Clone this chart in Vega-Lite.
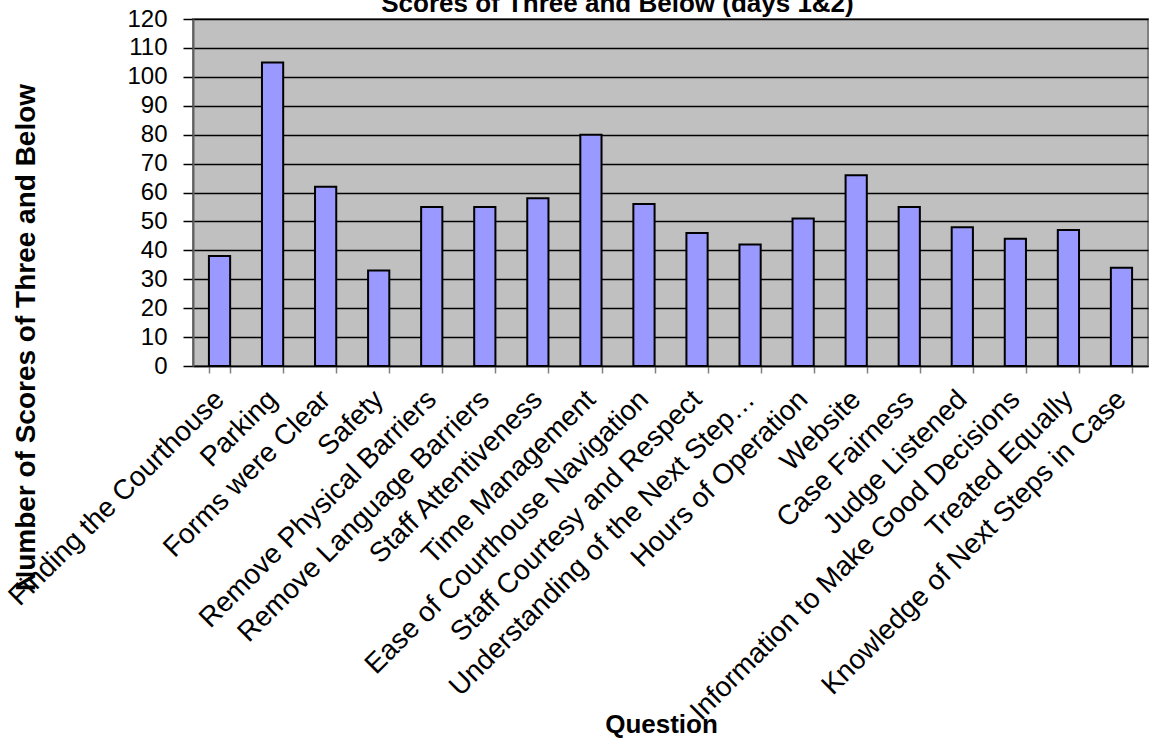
{
  "$schema": "https://vega.github.io/schema/vega-lite/v6.json",
  "width": 955,
  "height": 347,
  "autosize": "none",
  "padding": {"left": 193, "top": 19, "right": 3, "bottom": 378},
  "background": "white",
  "title": {
    "text": "Scores of Three and Below (days 1&2)",
    "font": "Liberation Sans",
    "fontSize": 26,
    "fontWeight": "bold",
    "color": "black",
    "anchor": "middle",
    "offset": -10,
    "dx": -53
  },
  "data": {
    "values": [
      {"question": "Finding the Courthouse", "count": 38},
      {"question": "Parking", "count": 105},
      {"question": "Forms were Clear", "count": 62},
      {"question": "Safety", "count": 33},
      {"question": "Remove Physical Barriers", "count": 55},
      {"question": "Remove Language Barriers", "count": 55},
      {"question": "Staff Attentiveness", "count": 58},
      {"question": "Time Management", "count": 80},
      {"question": "Ease of Courthouse Navigation", "count": 56},
      {"question": "Staff Courtesy and Respect", "count": 46},
      {"question": "Understanding of the Next Step…", "count": 42},
      {"question": "Hours of Operation", "count": 51},
      {"question": "Website", "count": 66},
      {"question": "Case Fairness", "count": 55},
      {"question": "Judge Listened", "count": 48},
      {"question": "Information to Make Good Decisions", "count": 44},
      {"question": "Treated Equally", "count": 47},
      {"question": "Knowledge of Next Steps in Case", "count": 34}
    ]
  },
  "mark": {"type": "bar", "fill": "#9999FF", "stroke": "black", "strokeWidth": 2},
  "encoding": {
    "x": {
      "field": "question",
      "type": "nominal",
      "sort": null,
      "title": "Question",
      "scale": {"paddingInner": 0.6, "paddingOuter": 0.3},
      "axis": {
        "labelAngle": -45,
        "labelAlign": "right",
        "labelBaseline": "middle",
        "labelFont": "Liberation Sans",
        "labelFontSize": 28,
        "labelColor": "black",
        "labelPadding": 22,
        "labelLimit": 1000,
        "labelOverlap": false,
        "tickBand": "extent",
        "tickSize": 7,
        "tickColor": "#808080",
        "tickWidth": 1.5,
        "domainColor": "black",
        "domainWidth": 1.5,
        "titleFont": "Liberation Sans",
        "titleFontSize": 26,
        "titleFontWeight": "bold",
        "titleColor": "black",
        "titleBaseline": "alphabetic",
        "titleX": 468,
        "titleY": 366
      }
    },
    "y": {
      "field": "count",
      "type": "quantitative",
      "title": "Number of Scores of Three and Below",
      "scale": {"domain": [0, 120], "nice": false},
      "axis": {
        "values": [0, 10, 20, 30, 40, 50, 60, 70, 80, 90, 100, 110, 120],
        "labelFont": "Liberation Sans",
        "labelFontSize": 24,
        "labelColor": "black",
        "labelPadding": 16,
        "tickSize": 10,
        "tickColor": "black",
        "tickWidth": 1.5,
        "domainColor": "#606060",
        "domainWidth": 2,
        "grid": true,
        "gridColor": "black",
        "gridWidth": 1.5,
        "titleFont": "Liberation Sans",
        "titleFontSize": 28,
        "titleFontWeight": "bold",
        "titleColor": "black",
        "titleAngle": -90,
        "titleBaseline": "alphabetic",
        "titleX": -159,
        "titleY": 318
      }
    }
  },
  "config": {
    "view": {"fill": "#C0C0C0", "stroke": "#808080", "strokeWidth": 2}
  }
}
